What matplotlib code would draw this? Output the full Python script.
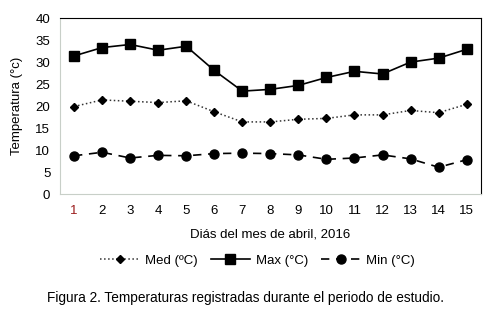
import numpy as np
import matplotlib
matplotlib.use("Agg")
import matplotlib.pyplot as plt

plt.rcParams['font.family'] = ['Liberation Sans', 'DejaVu Sans']

dias = list(range(1, 16))
t_med = [19.9, 21.4, 21.1, 20.8, 21.2, 18.7, 16.4, 16.4, 17.0, 17.2, 18.0, 18.0, 19.0, 18.5, 20.4]
t_max = [31.4, 33.3, 34.0, 32.7, 33.6, 28.1, 23.4, 23.8, 24.7, 26.5, 27.9, 27.3, 30.0, 30.9, 32.9]
t_min = [8.7, 9.5, 8.2, 8.8, 8.7, 9.2, 9.3, 9.2, 8.9, 7.9, 8.2, 8.9, 8.0, 6.1, 7.8]

fig = plt.figure(figsize=(4.92, 3.12), dpi=100)
ax = fig.add_axes([0.122, 0.378, 0.855, 0.564])

x = np.arange(len(dias))
ax.plot(x, t_med, color='#333333', linestyle=':', linewidth=1.1,
        marker='D', markersize=4.5, markerfacecolor='black', markeredgecolor='black', label='Med (ºC)')
ax.plot(x, t_max, color='black', linestyle='-', linewidth=1.2,
        marker='s', markersize=7, label='Max (°C)')
ax.plot(x, t_min, color='black', linestyle=(0, (5, 4)), linewidth=1.2,
        marker='o', markersize=6.5, label='Min (°C)')

ax.set_xlim(-0.5, len(dias) - 0.5)
ax.set_ylim(0, 40)
ax.set_yticks(range(0, 41, 5))
ax.set_xticks(x)
ax.set_xticklabels([str(d) for d in dias])
ax.tick_params(length=0, labelsize=9.5)
ax.tick_params(axis='x', pad=8)
ax.tick_params(axis='y', pad=7)
ax.get_xticklabels()[0].set_color('#9b1c1c')

for s in ['left', 'bottom']:
    ax.spines[s].set_color('#c8cfc8')
for s in ['top', 'right']:
    ax.spines[s].set_color('black')

ax.set_ylabel('Temperatura (°c)', fontsize=9.5, labelpad=9)
ax.set_xlabel('Diás del mes de abril, 2016', fontsize=9.5, labelpad=8)

fig.legend(loc='center', bbox_to_anchor=(0.523, 0.165), ncol=3, frameon=False,
           fontsize=9.5, handlelength=3.0, columnspacing=1.0, handletextpad=0.4)

fig.text(0.498, 0.045, 'Figura 2. Temperaturas registradas durante el periodo de estudio.',
         ha='center', va='center', fontsize=9.8)

fig.savefig('out.png', dpi=100)
